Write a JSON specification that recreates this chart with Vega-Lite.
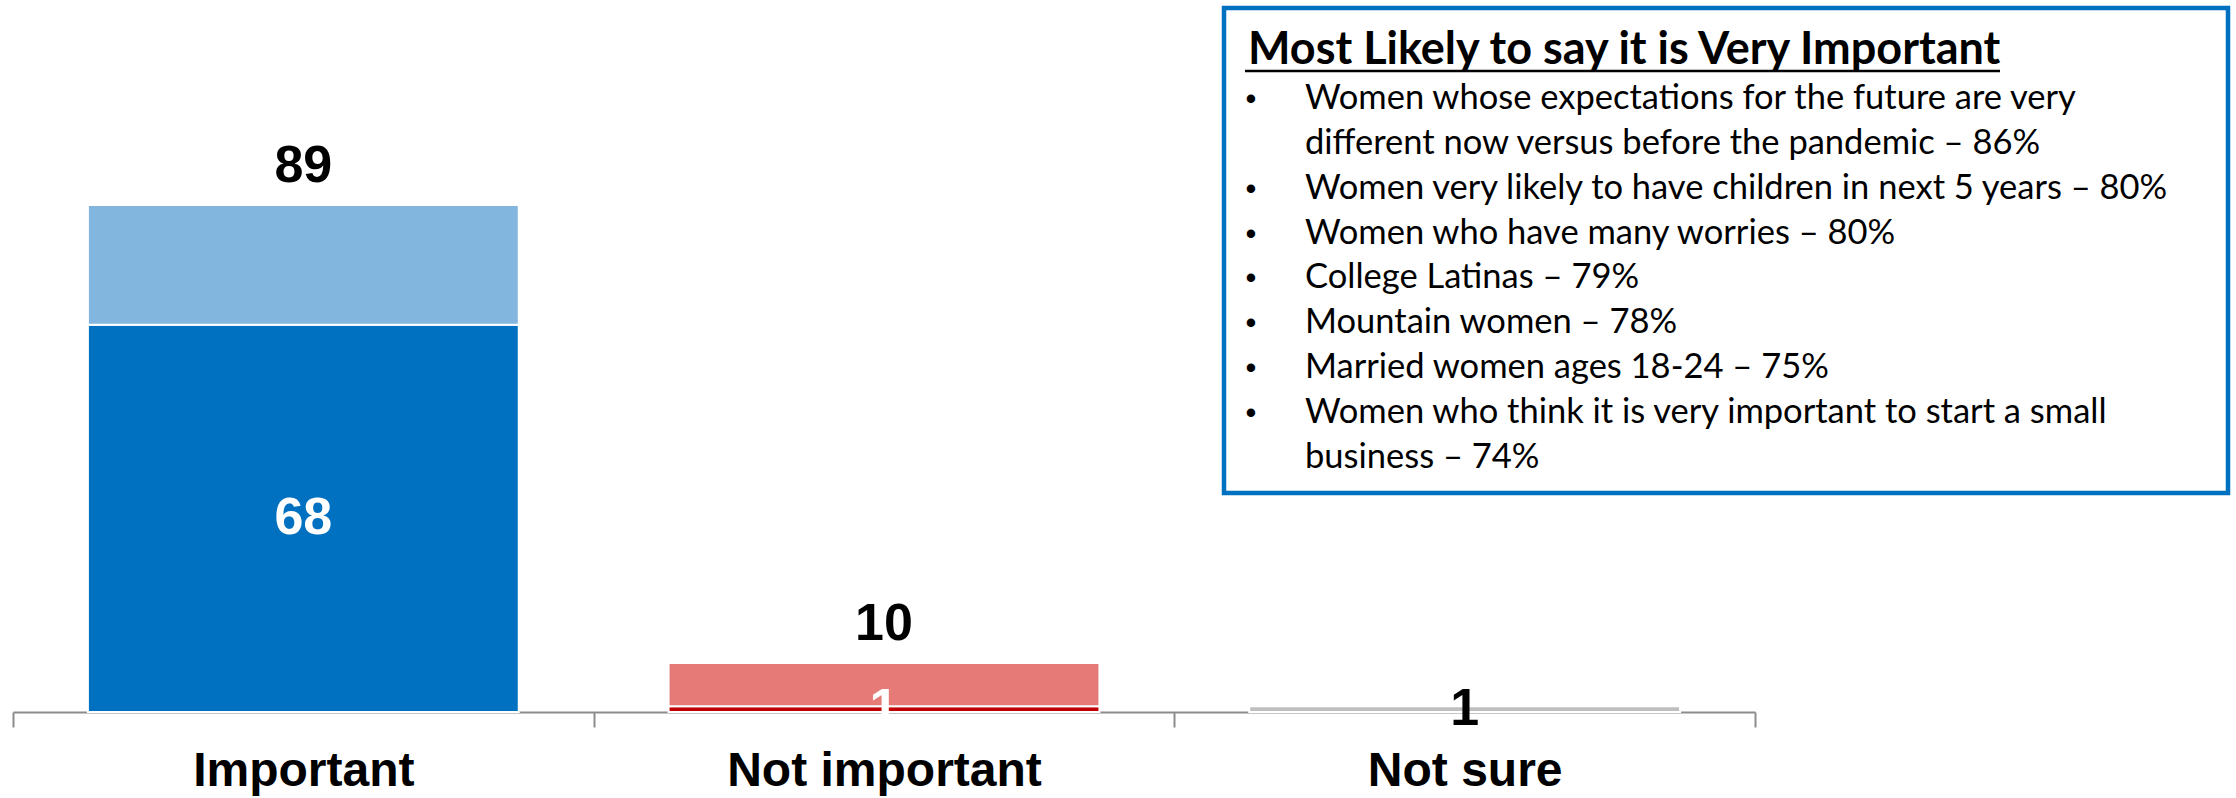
{
  "$schema": "https://vega.github.io/schema/vega-lite/v6.json",
  "autosize": "none",
  "width": 1742,
  "height": 712,
  "padding": {"left": 13, "top": 0, "right": 481, "bottom": 86},
  "background": "white",
  "config": {"view": {"stroke": null}, "font": "Liberation Sans"},
  "datasets": {
    "segments": [
      {"cat": "Important", "seg": "Very important", "order": 1, "value": 68, "label": "68", "totalLabel": "89"},
      {"cat": "Important", "seg": "Somewhat important", "order": 2, "value": 21, "label": "", "totalLabel": "89"},
      {"cat": "Not important", "seg": "Not at all important", "order": 1, "value": 1, "label": "1", "totalLabel": "10"},
      {"cat": "Not important", "seg": "Not very important", "order": 2, "value": 7.6, "label": "", "totalLabel": "10"},
      {"cat": "Not sure", "seg": "Not sure", "order": 1, "value": 1, "label": "1", "totalLabel": ""}
    ],
    "notes": [
      {"line": 1, "bullet": "•", "text": "Women whose expectations for the future are very"},
      {"line": 2, "bullet": "", "text": "different now versus before the pandemic – 86%"},
      {"line": 3, "bullet": "•", "text": "Women very likely to have children in next 5 years – 80%"},
      {"line": 4, "bullet": "•", "text": "Women who have many worries – 80%"},
      {"line": 5, "bullet": "•", "text": "College Latinas – 79%"},
      {"line": 6, "bullet": "•", "text": "Mountain women – 78%"},
      {"line": 7, "bullet": "•", "text": "Married women ages 18-24 – 75%"},
      {"line": 8, "bullet": "•", "text": "Women who think it is very important to start a small"},
      {"line": 9, "bullet": "", "text": "business – 74%"}
    ]
  },
  "layer": [
    {
      "data": {"name": "segments"},
      "layer": [
        {
          "mark": {"type": "bar", "stroke": "white", "strokeWidth": 2, "width": {"band": 0.742}},
          "encoding": {
            "x": {
              "field": "cat", "type": "nominal", "sort": ["Important", "Not important", "Not sure"],
              "scale": {"paddingInner": 0, "paddingOuter": 0},
              "axis": {"title": null, "labelFont": "Liberation Sans", "labelFontSize": 48, "labelFontWeight": "bold", "labelColor": "black", "labelPadding": 20, "labelLimit": 0, "labelAngle": 0, "tickBand": "extent", "tickSize": 15, "tickColor": "#8c8c8c", "tickWidth": 2, "domainColor": "#8c8c8c", "domainWidth": 2, "grid": false}
            },
            "y": {"field": "value", "type": "quantitative", "stack": "zero", "scale": {"domain": [0, 125], "nice": false}, "axis": null},
            "color": {
              "field": "seg", "type": "nominal",
              "scale": {
                "domain": ["Very important", "Somewhat important", "Not at all important", "Not very important", "Not sure"],
                "range": ["#0070C0", "#83B6DE", "#C00000", "#E57A77", "#BFBFBF"]
              },
              "legend": null
            },
            "order": {"field": "order", "type": "quantitative"}
          }
        },
        {
          "mark": {"type": "text", "font": "Liberation Sans", "fontWeight": "bold", "fontSize": 52, "baseline": "middle"},
          "encoding": {
            "x": {"field": "cat", "type": "nominal", "sort": ["Important", "Not important", "Not sure"]},
            "y": {"field": "value", "type": "quantitative", "stack": "zero", "bandPosition": 0.5},
            "detail": {"field": "seg"},
            "order": {"field": "order", "type": "quantitative"},
            "text": {"field": "label"},
            "color": {"condition": {"test": "datum.cat === 'Not sure'", "value": "black"}, "value": "white"}
          }
        },
        {
          "transform": [
            {"aggregate": [{"op": "sum", "field": "value", "as": "total"}], "groupby": ["cat", "totalLabel"]},
            {"filter": "datum.totalLabel !== ''"}
          ],
          "mark": {"type": "text", "font": "Liberation Sans", "fontWeight": "bold", "fontSize": 52, "baseline": "alphabetic", "dy": -23, "color": "black"},
          "encoding": {
            "x": {"field": "cat", "type": "nominal", "sort": ["Important", "Not important", "Not sure"]},
            "y": {"field": "total", "type": "quantitative"},
            "text": {"field": "totalLabel"}
          }
        }
      ]
    },
    {
      "data": {"values": [{}]},
      "mark": {"type": "rect", "fill": "white", "stroke": "#0070C0", "strokeWidth": 4.5},
      "encoding": {
        "x": {"datum": 0, "type": "quantitative", "scale": {"domain": [0, 1], "range": [1211, 2215], "nice": false}, "axis": null},
        "x2": {"datum": 1},
        "y": {"datum": 0, "type": "quantitative", "scale": {"domain": [0, 1], "range": [8, 493], "nice": false}, "axis": null},
        "y2": {"datum": 1}
      }
    },
    {
      "data": {"name": "notes"},
      "layer": [
        {
          "mark": {"type": "text", "align": "left", "baseline": "alphabetic", "font": "Lato", "fontSize": 34.5, "color": "black"},
          "encoding": {
            "x": {"datum": 81, "type": "quantitative", "scale": {"domain": [0, 1004], "range": [1211, 2215], "nice": false}, "axis": null},
            "y": {"field": "line", "type": "quantitative", "scale": {"domain": [0, 9], "range": [64, 468], "nice": false}, "axis": null},
            "text": {"field": "text"}
          }
        },
        {
          "mark": {"type": "text", "align": "center", "baseline": "alphabetic", "font": "Liberation Sans", "fontSize": 31, "color": "black"},
          "encoding": {
            "x": {"datum": 27, "type": "quantitative"},
            "y": {"field": "line", "type": "quantitative"},
            "text": {"field": "bullet"}
          }
        },
        {
          "data": {"values": [{"line": 0, "text": "Most Likely to say it is Very Important"}]},
          "mark": {"type": "text", "align": "left", "baseline": "alphabetic", "font": "Lato", "fontWeight": "bold", "fontSize": 45, "color": "black"},
          "encoding": {
            "x": {"datum": 24, "type": "quantitative"},
            "y": {"field": "line", "type": "quantitative"},
            "text": {"field": "text"}
          }
        },
        {
          "data": {"values": [{}]},
          "mark": {"type": "rule", "color": "black", "strokeWidth": 2.5},
          "encoding": {
            "x": {"datum": 21, "type": "quantitative"},
            "x2": {"datum": 776},
            "y": {"datum": 0.156, "type": "quantitative"}
          }
        }
      ]
    }
  ],
  "resolve": {"scale": {"x": "independent", "y": "independent"}}
}
